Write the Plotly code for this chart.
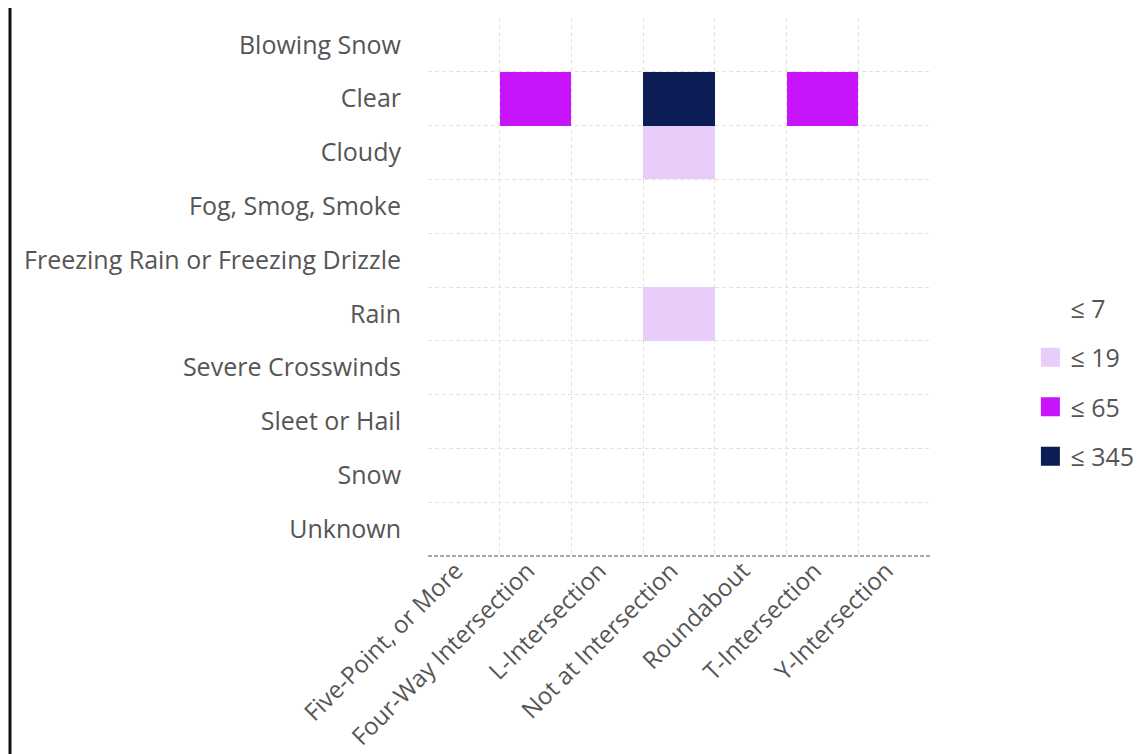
import plotly.graph_objects as go

weather = ["Blowing Snow", "Clear", "Cloudy", "Fog, Smog, Smoke",
           "Freezing Rain or Freezing Drizzle", "Rain", "Severe Crosswinds",
           "Sleet or Hail", "Snow", "Unknown"]
junction = ["Five-Point, or More", "Four-Way Intersection", "L-Intersection",
            "Not at Intersection", "Roundabout", "T-Intersection", "Y-Intersection"]

# counts (rows = weather, cols = junction); cells <= 7 show as blank
counts = [
    [0, 0, 0, 1, 0, 0, 0],
    [0, 48, 2, 345, 1, 52, 1],
    [0, 4, 0, 16, 0, 5, 0],
    [0, 0, 0, 2, 0, 0, 0],
    [0, 0, 0, 1, 0, 0, 0],
    [0, 3, 0, 14, 0, 4, 0],
    [0, 0, 0, 1, 0, 0, 0],
    [0, 0, 0, 1, 0, 0, 0],
    [0, 1, 0, 6, 0, 2, 0],
    [0, 0, 0, 3, 0, 1, 0],
]

bin_limits = [7, 19, 65, 345]
bin_labels = ["≤ 7", "≤ 19", "≤ 65", "≤ 345"]
bin_colors = ["rgba(255,255,255,0)", "#E8CCFA", "#C814FA", "#0B1D54"]
legend_colors = ["#FFFFFF", "#E8CCFA", "#C814FA", "#0B1D54"]


def bin_index(v):
    for i, lim in enumerate(bin_limits):
        if v <= lim:
            return i
    return len(bin_limits) - 1


z = [[bin_index(v) for v in row] for row in counts]
n = len(bin_colors)
colorscale = []
for i, c in enumerate(bin_colors):
    colorscale.append([max(0, (i - 0.5) / (n - 1)), c])
    colorscale.append([min(1, (i + 0.5) / (n - 1)), c])

FONT = "Open Sans, Noto Sans, sans-serif"
TXT = "#555555"
FS = 25

fig = go.Figure()
fig.add_trace(go.Heatmap(
    x=list(range(len(junction))), y=list(range(len(weather))), z=z,
    text=counts, colorscale=colorscale, zmin=0, zmax=n - 1,
    showscale=False, hovertemplate="%{text}<extra></extra>",
    showlegend=False,
))

for i, (lab, col) in enumerate(zip(bin_labels, legend_colors)):
    fig.add_trace(go.Scatter(
        x=[None], y=[None], mode="markers", name=lab, legendgroup=lab,
        marker=dict(symbol="square", size=16, color=col,
                    line=dict(width=3, color=col)),
    ))

# page has an 8px body margin, compensate
L, R, T, B = 420, 223, 10, 206
W, H = 1145, 754
pw = W - L - R
ph = H - T - B

grid_style = dict(showgrid=True, gridcolor="#E2E2E2", griddash="4px,3px", gridwidth=1,
                  tickmode="array", ticks="")

fig.update_layout(
    width=W, height=H,
    margin=dict(l=L, r=R, t=T, b=B, pad=0, autoexpand=False),
    paper_bgcolor="white", plot_bgcolor="white",
    font=dict(family=FONT, size=FS, color=TXT),
    showlegend=True,
    legend=dict(x=1.2, xanchor="left", y=(ph - (382 - 8 - T)) / ph,
                yanchor="middle",
                font=dict(size=FS, color=TXT), tracegroupgap=14,
                itemsizing="trace", bgcolor="rgba(0,0,0,0)"),
    xaxis=dict(
        tickmode="array", tickvals=list(range(len(junction))), ticktext=junction,
        tickangle=-45, showgrid=False, zeroline=False, showline=False,
        range=[-0.5, len(junction) - 0.5], ticks="", ticklen=0,
        ticklabelshift=-8, ticklabelstandoff=-5,
        minor=dict(tickvals=[i - 0.5 for i in range(len(junction) + 1)], **grid_style),
        tickfont=dict(size=24, color=TXT), automargin=False,
    ),
    yaxis=dict(
        tickmode="array", tickvals=list(range(len(weather))), ticktext=weather,
        showgrid=False, zeroline=False, showline=False,
        range=[len(weather) - 0.5, -0.5], ticks="", ticklabelstandoff=26,
        minor=dict(tickvals=[i - 0.5 for i in range(len(weather) + 1)], **grid_style),
        tickfont=dict(size=FS, color=TXT), automargin=False,
    ),
)

# bottom axis line (dashed grey)
fig.add_shape(type="line", xref="paper", yref="paper", x0=0, x1=1, y0=0, y1=0,
              line=dict(color="#A8A8A8", width=2, dash="4px,2px"), layer="above")
# left frame border of the visual
fx = (2 - L) / pw
fig.add_shape(type="line", xref="paper", yref="paper",
              x0=fx, x1=fx, y0=-B / ph - 0.05, y1=1 + T / ph + 0.05,
              line=dict(color="#111111", width=3))

fig.write_html("out.html")
